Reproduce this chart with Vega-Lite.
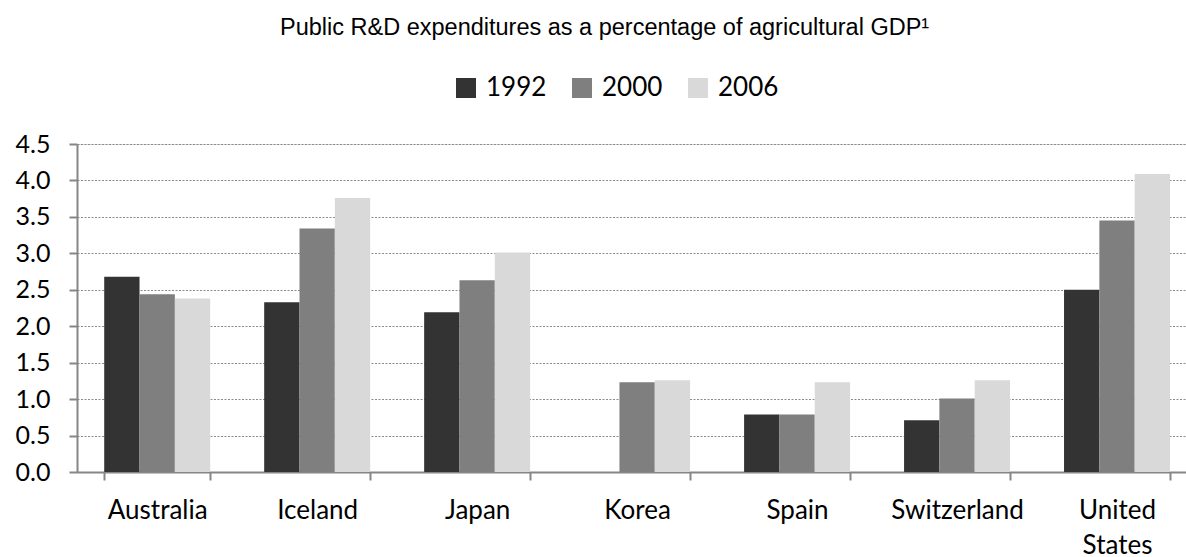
{
  "$schema": "https://vega.github.io/schema/vega-lite/v6.json",
  "width": 1109,
  "height": 328,
  "autosize": {"type": "none"},
  "padding": {"left": 77, "top": 144, "right": 0, "bottom": 85},
  "background": "white",
  "title": {
    "text": "Public R&D expenditures as a percentage of agricultural GDP¹",
    "anchor": "start",
    "frame": "group",
    "dx": 203,
    "dy": -32,
    "font": "Liberation Sans",
    "fontSize": 23.5,
    "fontWeight": "normal",
    "color": "#000000"
  },
  "data": {
    "values": [
      {"country": "Australia", "year": "1992", "value": 2.68},
      {"country": "Australia", "year": "2000", "value": 2.44},
      {"country": "Australia", "year": "2006", "value": 2.38},
      {"country": "Iceland", "year": "1992", "value": 2.33},
      {"country": "Iceland", "year": "2000", "value": 3.34},
      {"country": "Iceland", "year": "2006", "value": 3.76},
      {"country": "Japan", "year": "1992", "value": 2.19},
      {"country": "Japan", "year": "2000", "value": 2.63},
      {"country": "Japan", "year": "2006", "value": 3.01},
      {"country": "Korea", "year": "2000", "value": 1.23},
      {"country": "Korea", "year": "2006", "value": 1.26},
      {"country": "Spain", "year": "1992", "value": 0.79},
      {"country": "Spain", "year": "2000", "value": 0.79},
      {"country": "Spain", "year": "2006", "value": 1.23},
      {"country": "Switzerland", "year": "1992", "value": 0.71},
      {"country": "Switzerland", "year": "2000", "value": 1.01},
      {"country": "Switzerland", "year": "2006", "value": 1.26},
      {"country": "United States", "year": "1992", "value": 2.5},
      {"country": "United States", "year": "2000", "value": 3.45},
      {"country": "United States", "year": "2006", "value": 4.09}
    ]
  },
  "mark": {"type": "bar"},
  "encoding": {
    "x": {
      "field": "country",
      "type": "nominal",
      "sort": ["Australia", "Iceland", "Japan", "Korea", "Spain", "Switzerland", "United States"],
      "scale": {"paddingInner": 0.3375, "paddingOuter": 0.135, "align": 0.63},
      "axis": {
        "title": null,
        "labelAngle": 0,
        "tickBand": "extent",
        "tickSize": 8,
        "tickWidth": 2,
        "tickColor": "#868686",
        "domainColor": "#868686",
        "domainWidth": 2,
        "labelFont": "Lato",
        "labelFontSize": 26,
        "labelColor": "#000000",
        "labelPadding": 17,
        "labelLineHeight": 35,
        "labelExpr": "isValid(datum.value) ? split(datum.value, ' ') : ''"
      }
    },
    "xOffset": {"field": "year", "type": "nominal", "sort": ["1992", "2000", "2006"]},
    "y": {
      "field": "value",
      "type": "quantitative",
      "scale": {"domain": [0, 4.5]},
      "axis": {
        "title": null,
        "values": [0, 0.5, 1, 1.5, 2, 2.5, 3, 3.5, 4, 4.5],
        "format": ".1f",
        "grid": true,
        "gridColor": "#8a8a8a",
        "gridDash": [2, 1.5],
        "gridWidth": 1,
        "tickSize": 8,
        "tickWidth": 2,
        "tickColor": "#868686",
        "domainColor": "#868686",
        "domainWidth": 2,
        "labelFont": "Lato",
        "labelFontSize": 25,
        "labelColor": "#000000",
        "labelPadding": 19
      }
    },
    "color": {
      "field": "year",
      "type": "nominal",
      "scale": {"domain": ["1992", "2000", "2006"], "range": ["#333333", "#7f7f7f", "#d9d9d9"]},
      "legend": {
        "orient": "none",
        "legendX": 376,
        "legendY": -69,
        "direction": "horizontal",
        "title": null,
        "symbolType": "square",
        "symbolSize": 400,
        "symbolStrokeWidth": 0,
        "symbolOpacity": 1,
        "labelFont": "Lato",
        "labelFontSize": 26,
        "labelColor": "#000000",
        "labelOffset": 7,
        "columnPadding": 22
      }
    }
  }
}
